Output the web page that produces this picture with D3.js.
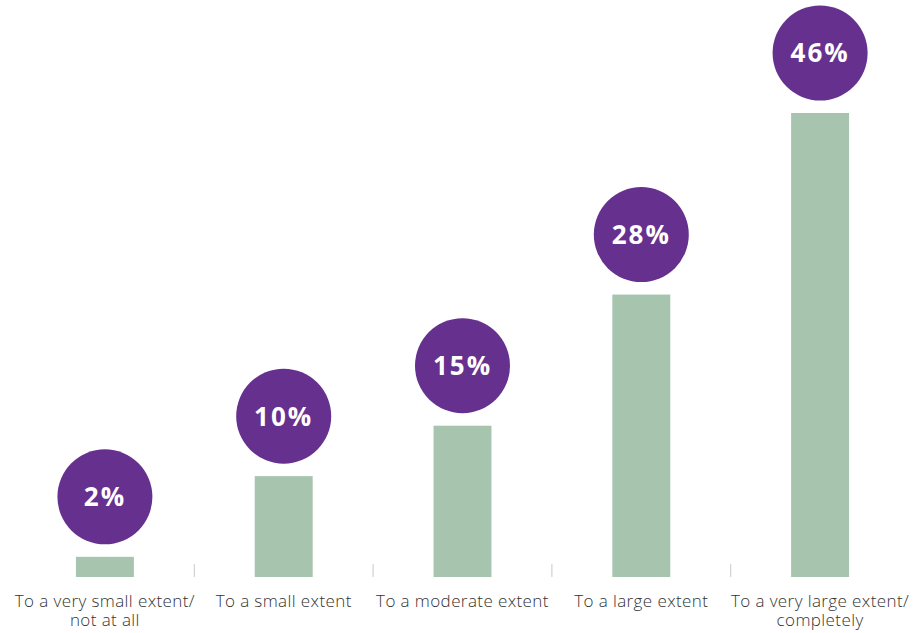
<!DOCTYPE html>
<html>
<head>
<meta charset="utf-8">
<script src="https://cdn.jsdelivr.net/npm/d3@7/dist/d3.min.js"></script>
<style>
  html, body { margin: 0; padding: 0; background: #fff; }
  svg { display: block; }
</style>
</head>
<body>
<svg id="chart" width="915" height="633"></svg>
<script>
// Share of respondents by extent of agreement
const categories = [
  ["To a very small extent/", "not at all"],
  ["To a small extent"],
  ["To a moderate extent"],
  ["To a large extent"],
  ["To a very large extent/", "completely"]
];
const values = [2, 10, 15, 28, 46];
const valueLabels = ["2%", "10%", "15%", "28%", "46%"];

const W = 915, H = 633;
const baseline = 577;
const svg = d3.select("#chart");

const x = d3.scaleBand()
  .domain(d3.range(categories.length))
  .range([15.5, 909.5])
  .padding(0);

const y = d3.scaleLinear()
  .domain([0, 46])
  .range([baseline, 113]);

const barW = x.bandwidth() * 0.324;
const bubbleR = 47.5;
const bubbleGap = 60;

// bars
svg.append("g").selectAll("rect")
  .data(values)
  .join("rect")
  .attr("x", (d, i) => x(i) + x.bandwidth() / 2 - barW / 2)
  .attr("y", d => y(d))
  .attr("width", barW)
  .attr("height", d => baseline - y(d))
  .attr("fill", "#a6c4ae");

// small separators between categories
svg.append("g").selectAll("line")
  .data(d3.range(1, categories.length))
  .join("line")
  .attr("x1", i => x(i))
  .attr("x2", i => x(i))
  .attr("y1", baseline - 13)
  .attr("y2", baseline)
  .attr("stroke", "#c8c8c8")
  .attr("stroke-width", 1);

// value bubbles
const bubbles = svg.append("g").selectAll("g")
  .data(values)
  .join("g")
  .attr("transform", (d, i) => `translate(${x(i) + x.bandwidth() / 2},${y(d) - bubbleGap})`);

bubbles.append("circle")
  .attr("r", bubbleR)
  .attr("fill", "#66308e");

bubbles.append("text")
  .text((d, i) => valueLabels[i])
  .attr("text-anchor", "middle")
  .attr("dy", "0.36em")
  .attr("fill", "#fff")
  .style("font-family", "'Open Sans', sans-serif")
  .style("font-weight", 700)
  .style("font-size", "26px")
  .style("letter-spacing", "2px");

// category labels
const labels = svg.append("g").selectAll("text")
  .data(categories)
  .join("text")
  .attr("x", (d, i) => x(i) + x.bandwidth() / 2)
  .attr("y", 607)
  .attr("text-anchor", "middle")
  .attr("fill", "#333")
  .style("font-family", "'Open Sans', sans-serif")
  .style("font-weight", 300)
  .style("font-size", "17px")
  .style("letter-spacing", "0.4px");

labels.selectAll("tspan")
  .data(d => d)
  .join("tspan")
  .attr("x", function () { return this.parentNode.getAttribute("x"); })
  .attr("dy", (d, j) => j === 0 ? 0 : 19)
  .text(d => d);
</script>
</body>
</html>
